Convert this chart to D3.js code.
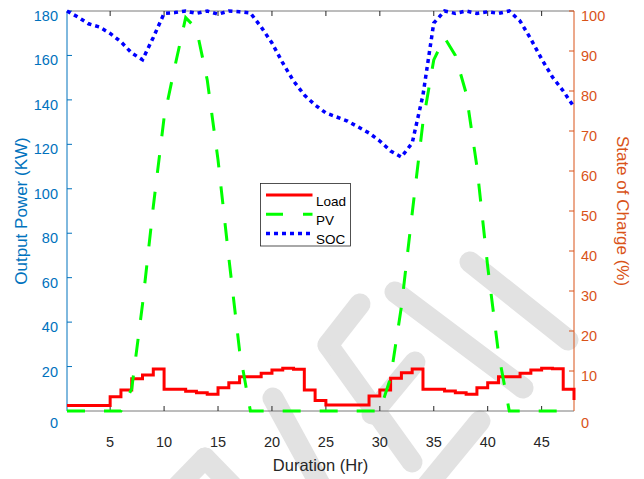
<!DOCTYPE html>
<html>
<head>
<meta charset="utf-8">
<script src="https://cdn.jsdelivr.net/npm/d3@7"></script>
<style>
  body { margin: 0; background: #fff; }
  text { font-family: "Liberation Sans", Arial, sans-serif; }
</style>
</head>
<body>
<div id="graph"></div>
<script>
// --------------------------------------
//  Data
// --------------------------------------

const hours = [1,2,3,4,5,6,7,8,9,10,11,12,13,14,15,16,17,18,19,20,21,22,23,24,
               25,26,27,28,29,30,31,32,33,34,35,36,37,38,39,40,41,42,43,44,45,46,47,48];

const load = [2.5,2.5,2.5,2.5,6.4,9.4,14.5,16.2,18.9,9.8,9.8,8.9,8.2,7.5,10.5,12.7,15.4,15.4,17.0,18.5,19.2,18.8,9.4,4.7,
              2.7,2.7,2.7,2.7,6.8,9.4,14.7,17.2,18.9,9.8,9.8,9.0,8.2,7.5,10.5,12.7,15.4,15.4,17.0,18.5,19.2,19.0,9.8,5.0];

const pv = [0,0,0,0,0,0,10,48,92,132,155,177,172,149,113,69,27,0,0,0,0,0,0,0,
            0,0,0,0,0,0,15,47,89,130,158,168,160,143,110,65,26,0,0,0,0,0,0,0];

const soc = [100,98.5,96.8,96,94.4,92.3,89.5,87.8,93.4,99.4,99.6,100,99.4,100,99.2,100,99.8,99.5,96,92,87,82.5,79,76.5,
             74.5,73.5,72.5,71,69.5,67.5,65,63.5,67,79,97,100,99.4,100,99.4,99.8,99.4,100,97.5,93,88,83.5,80,76];

const xTicks = [5,10,15,20,25,30,35,40,45];
const leftTicks = [0,20,40,60,80,100,120,140,160,180];
const rightTicks = [0,10,20,30,40,50,60,70,80,90,100];

const seriesNames = ["Load", "PV", "SOC"];

// --------------------------------------
//  Margin and canvas
// --------------------------------------

const W = 644, H = 479;
const margin = { top: 11, right: 70, bottom: 68, left: 67 };
const width = W - margin.left - margin.right;
const height = H - margin.top - margin.bottom;

const blue = "#0072BD";
const orange = "#D95319";
const dark = "#262626";

const svg = d3.select("#graph")
  .append("svg")
  .attr("width", W)
  .attr("height", H);

svg.append("rect").attr("width", W).attr("height", H).attr("fill", "#fff");

// watermark (rough)
const wm = svg.append("g")
  .attr("stroke", "#e2e2e2")
  .attr("stroke-width", 21)
  .attr("stroke-linecap", "round")
  .attr("fill", "none");

[
  [[273, 398], [322, 488]],
  [[328, 345], [412, 462]],
  [[328, 345], [360, 304]],
  [[395, 292], [523, 388]],
  [[470, 262], [568, 340]],
  [[480, 421], [425, 488]],
  [[205, 458], [172, 492]],
  [[205, 458], [238, 492]],
  [[372, 414], [415, 362]]
].forEach(s => wm.append("path").attr("d", d3.line()(s)));

const g = svg.append("g")
  .attr("transform", `translate(${margin.left},${margin.top})`);

// --------------------------------------
//  Scales
// --------------------------------------

const x = d3.scaleLinear().domain([1, 48]).range([0, width]);
const yL = d3.scaleLinear().domain([0, 180]).range([height, 0]);
const yR = d3.scaleLinear().domain([0, 100]).range([height, 0]);

// --------------------------------------
//  Axes
// --------------------------------------

// bottom + top lines
g.append("line").attr("x1", 0).attr("x2", width).attr("y1", height).attr("y2", height)
  .attr("stroke", "#7a7a7a");
g.append("line").attr("x1", 0).attr("x2", width).attr("y1", 0).attr("y2", 0)
  .attr("stroke", "#7a7a7a");

g.selectAll(".xtick")
  .data(xTicks)
  .join("g")
  .each(function(d) {
    const t = d3.select(this);
    t.append("line").attr("x1", x(d)).attr("x2", x(d)).attr("y1", height).attr("y2", height - 5)
      .attr("stroke", dark);
    t.append("line").attr("x1", x(d)).attr("x2", x(d)).attr("y1", 0).attr("y2", 5)
      .attr("stroke", dark);
    t.append("text").attr("x", x(d)).attr("y", height + 36)
      .attr("text-anchor", "middle").attr("font-size", 14.5).attr("fill", dark)
      .text(d);
  });

// left axis
g.append("line").attr("x1", 0).attr("x2", 0).attr("y1", 0).attr("y2", height)
  .attr("stroke", blue);

g.selectAll(".ltick")
  .data(leftTicks)
  .join("g")
  .each(function(d) {
    const t = d3.select(this);
    if (d > 0) {
      t.append("line").attr("x1", 0).attr("x2", 5).attr("y1", yL(d)).attr("y2", yL(d))
        .attr("stroke", blue);
    }
    t.append("text").attr("x", -9).attr("y", yL(d) + (d === 0 ? 17 : 10))
      .attr("text-anchor", "end").attr("font-size", 14.5).attr("fill", blue)
      .text(d);
  });

// right axis
g.append("line").attr("x1", width).attr("x2", width).attr("y1", 0).attr("y2", height)
  .attr("stroke", orange);

g.selectAll(".rtick")
  .data(rightTicks)
  .join("g")
  .each(function(d) {
    const t = d3.select(this);
    if (d > 0) {
      t.append("line").attr("x1", width).attr("x2", width - 5).attr("y1", yR(d)).attr("y2", yR(d))
        .attr("stroke", orange);
    }
    t.append("text").attr("x", width + 7).attr("y", yR(d) + (d === 0 ? 17 : 10))
      .attr("text-anchor", "start").attr("font-size", 14.5).attr("fill", orange)
      .text(d);
  });

// axis titles
svg.append("text")
  .attr("transform", `translate(27,${margin.top + height / 2}) rotate(-90)`)
  .attr("text-anchor", "middle").attr("font-size", 17).attr("fill", blue)
  .text("Output Power (KW)");

svg.append("text")
  .attr("transform", `translate(617,${margin.top + height / 2}) rotate(90)`)
  .attr("text-anchor", "middle").attr("font-size", 17).attr("fill", orange)
  .text("State of Charge (%)");

svg.append("text")
  .attr("x", margin.left + width / 2).attr("y", 471)
  .attr("text-anchor", "middle").attr("font-size", 16.5).attr("fill", dark)
  .text("Duration (Hr)");

// --------------------------------------
//  Lines
// --------------------------------------

const loadLine = d3.line()
  .x((d, i) => x(hours[i]))
  .y(d => yL(d))
  .curve(d3.curveStepAfter);

const pvLine = d3.line()
  .x((d, i) => x(hours[i]))
  .y(d => yL(d));

const socLine = d3.line()
  .x((d, i) => x(hours[i]))
  .y(d => yR(d));

g.append("path")
  .attr("d", loadLine(load))
  .attr("fill", "none").attr("stroke", "#ff0000").attr("stroke-width", 3);

g.append("path")
  .attr("d", pvLine(pv))
  .attr("fill", "none").attr("stroke", "#00ff00").attr("stroke-width", 3)
  .attr("stroke-dasharray", "18,19");

g.append("path")
  .attr("d", socLine(soc))
  .attr("fill", "none").attr("stroke", "#0000ff").attr("stroke-width", 3.5)
  .attr("stroke-dasharray", "4,4");

// --------------------------------------
//  Legend
// --------------------------------------

const leg = svg.append("g").attr("transform", "translate(260.5,183.5)");

leg.append("rect")
  .attr("width", 90).attr("height", 62.5)
  .attr("fill", "#fff").attr("stroke", dark).attr("stroke-width", 0.8);

const styles = [
  { color: "#ff0000", dash: null, w: 3 },
  { color: "#00ff00", dash: "17,20", w: 3 },
  { color: "#0000ff", dash: "4,4", w: 3.5 }
];

seriesNames.forEach((name, i) => {
  const yy = 11.5 + i * 19.2;
  leg.append("line")
    .attr("x1", 5.5).attr("x2", 52).attr("y1", yy).attr("y2", yy)
    .attr("stroke", styles[i].color).attr("stroke-width", styles[i].w)
    .attr("stroke-dasharray", styles[i].dash);
  leg.append("text")
    .attr("x", 55.5).attr("y", yy + 11)
    .attr("font-size", 13.5).attr("fill", "#000")
    .text(name);
});
</script>
</body>
</html>
